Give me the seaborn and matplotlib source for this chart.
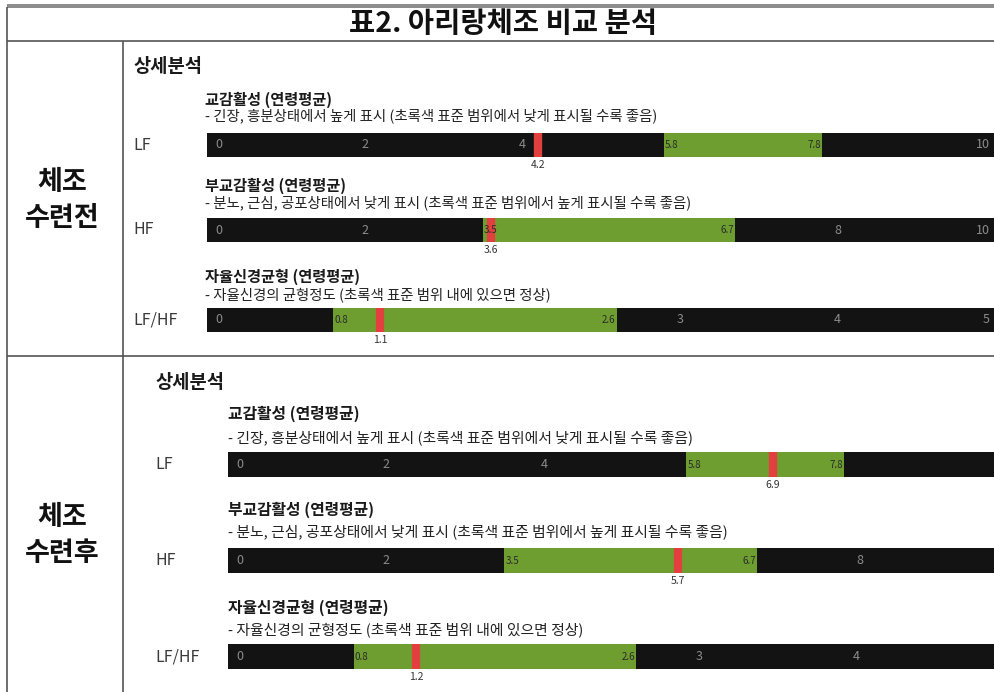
import matplotlib.pyplot as plt
import seaborn as sns

title = "표2. 아리랑체조 비교 분석"
stage_labels = ["체조\n수련전", "체조\n수련후"]
section_header = "상세분석"
gauge_titles = ["교감활성 (연령평균)", "부교감활성 (연령평균)", "자율신경균형 (연령평균)"]
gauge_notes = [
    "- 긴장, 흥분상태에서 높게 표시 (초록색 표준 범위에서 낮게 표시될 수록 좋음)",
    "- 분노, 근심, 공포상태에서 낮게 표시 (초록색 표준 범위에서 높게 표시될 수록 좋음)",
    "- 자율신경의 균형정도 (초록색 표준 범위 내에 있으면 정상)",
]
gauge_names = ["LF", "HF", "LF/HF"]
gauge_max = [10, 10, 5]
green_lo = [5.8, 3.5, 0.8]
green_hi = [7.8, 6.7, 2.6]
before_values = [4.2, 3.6, 1.1]
after_values = [6.9, 5.7, 1.2]
tick_values = [[0, 2, 4, 10], [0, 2, 8, 10], [0, 3, 4, 5]]

W, H = 995, 692
BLACK = "#131313"
GREEN = "#6f9e30"
RED = "#e2403f"
LINE = "#555555"

sns.set_theme(style="white")
plt.rcParams["font.family"] = ["Noto Sans CJK KR", "DejaVu Sans"]

fig = plt.figure(figsize=(W / 100, H / 100), dpi=100)
ax0 = fig.add_axes([0, 0, 1, 1])
ax0.set_xlim(0, W)
ax0.set_ylim(H, 0)
ax0.axis("off")

# table frame
ax0.hlines([4.5, 6.8], 7, W, color="#777777", lw=1.2)
ax0.hlines([41, 356], 7, W, color=LINE, lw=1.2)
ax0.vlines(7, 6.8, H, color=LINE, lw=1.2)
ax0.vlines(123, 41, H, color=LINE, lw=1.2)
ax0.text(503, 24, title, ha="center", va="center", fontsize=20.5, fontweight="bold", color="#111111")

# layout of the two sections (pixels)
sections = [
    dict(values=before_values, stage_y=200, header=(133, 66), name_x=133, text_x=205,
         title_y=[100, 186, 277], note_y=[116, 203, 295], bar_top=[133, 218, 308],
         bar_h=24, bar_x0=207, ppu=[78.8, 78.8, 157.6], tfs=11, nfs=10.4),
    dict(values=after_values, stage_y=535, header=(155, 383), name_x=155, text_x=228,
         title_y=[414, 510, 608], note_y=[438, 532, 630], bar_top=[452, 548, 644],
         bar_h=25, bar_x0=228, ppu=[79, 79, 157], tfs=11.4, nfs=10.7),
]

for k, s in enumerate(sections):
    ax0.text(62, s["stage_y"], stage_labels[k], ha="center", va="center", fontsize=19.5,
             fontweight="bold", color="#111111", linespacing=1.35)
    ax0.text(s["header"][0], s["header"][1], section_header, ha="left", va="center",
             fontsize=13.5, fontweight="bold", color="#1a1a1a")
    for i in range(3):
        ax0.text(s["text_x"], s["title_y"][i], gauge_titles[i], ha="left", va="center",
                 fontsize=s["tfs"], fontweight="bold", color="#1a1a1a")
        ax0.text(s["text_x"], s["note_y"][i], gauge_notes[i], ha="left", va="center",
                 fontsize=s["nfs"], color="#222222")
        top, bh = s["bar_top"][i], s["bar_h"]
        ax0.text(s["name_x"], top + bh / 2, gauge_names[i], ha="left", va="center",
                 fontsize=11.5, color="#3a3a3a")

        ppu = s["ppu"][i]
        xmax = min(gauge_max[i], (W - s["bar_x0"]) / ppu)
        ax = fig.add_axes([s["bar_x0"] / W, 1 - (top + bh) / H, xmax * ppu / W, bh / H])
        sns.barplot(x=[gauge_max[i]], y=[0], orient="h", color=BLACK, saturation=1,
                    width=1, linewidth=0, ax=ax)
        ax.barh(0, green_hi[i] - green_lo[i], left=green_lo[i], height=1, color=GREEN,
                linewidth=0)
        v = s["values"][i]
        ax.axvline(v, color=RED, lw=6)
        ax.set_xlim(0, xmax)
        ax.set_ylim(0.5, -0.5)
        ax.axis("off")

        for t in tick_values[i]:
            if t > xmax:
                continue
            if t == 0:
                ax.text(8 / ppu, 0, "0", ha="left", va="center", fontsize=9, color="#8c8c8c")
            elif t == gauge_max[i]:
                ax.text(t - 5 / ppu, 0, str(t), ha="right", va="center", fontsize=9, color="#8c8c8c")
            else:
                ax.text(t, 0, str(t), ha="center", va="center", fontsize=9, color="#8c8c8c")
        ax.text(green_lo[i] + 1 / ppu, 0, str(green_lo[i]), ha="left", va="center",
                fontsize=7, color="#2a2a2a")
        ax.text(green_hi[i] - 1 / ppu, 0, str(green_hi[i]), ha="right", va="center",
                fontsize=7, color="#2a2a2a")
        ax.text(v, 0.5 + 3 / bh, str(v), ha="center", va="top", fontsize=7.5,
                color="#333333", clip_on=False)

fig.savefig("out.png", dpi=100)
